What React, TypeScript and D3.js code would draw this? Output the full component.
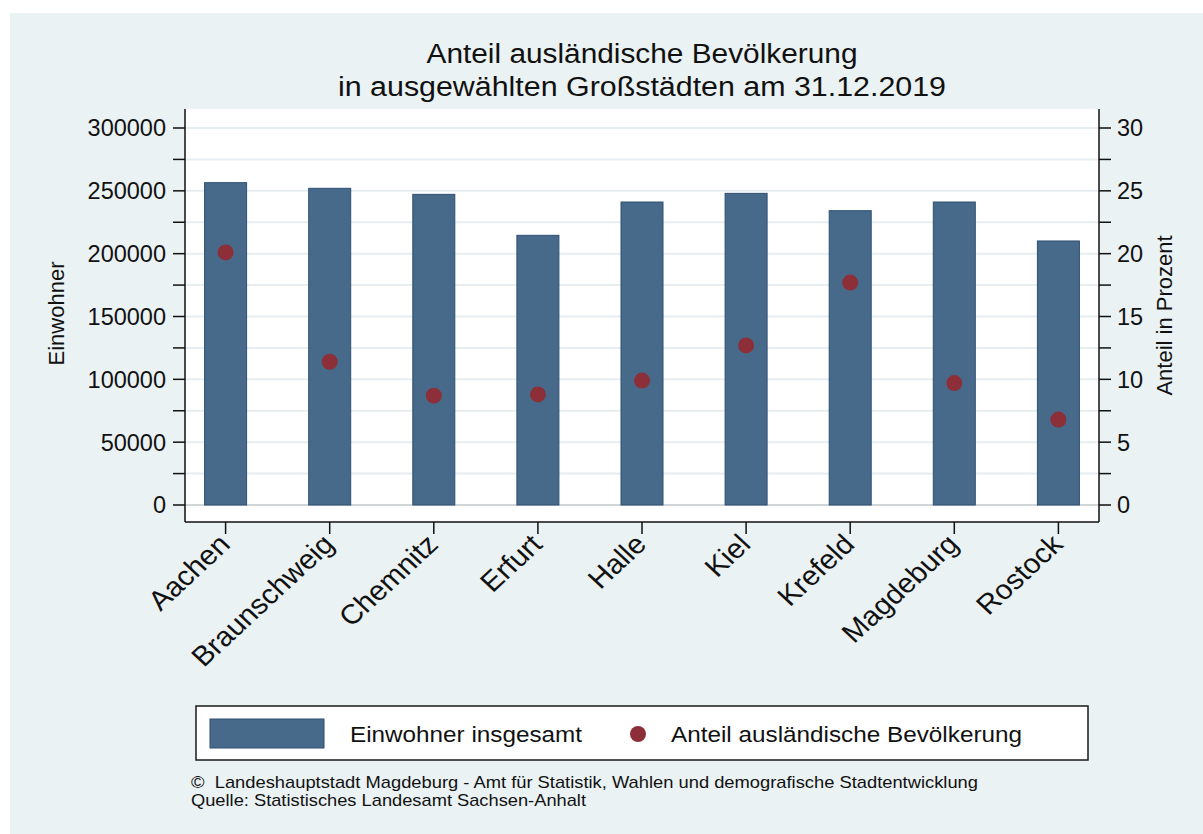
import React from 'react';
import * as d3 from 'd3';

const cities = ['Aachen', 'Braunschweig', 'Chemnitz', 'Erfurt', 'Halle', 'Kiel', 'Krefeld', 'Magdeburg', 'Rostock'];
const einwohner = [256500, 252000, 247200, 214600, 241100, 248000, 234200, 241100, 210100];
const anteil = [20.1, 11.4, 8.7, 8.8, 9.9, 12.7, 17.7, 9.7, 6.8];
const leftMajor = [0, 50000, 100000, 150000, 200000, 250000, 300000];
const leftMinor = [25000, 75000, 125000, 175000, 225000, 275000];
const rightMajor = [0, 5, 10, 15, 20, 25, 30];
const rightMinor = [2.5, 7.5, 12.5, 17.5, 22.5, 27.5];
const titleLines = ['Anteil ausländische Bevölkerung', 'in ausgewählten Großstädten am 31.12.2019'];
const legendLabels = ['Einwohner insgesamt', 'Anteil ausländische Bevölkerung'];
const footer = ['©  Landeshauptstadt Magdeburg - Amt für Statistik, Wahlen und demografische Stadtentwicklung', 'Quelle: Statistisches Landesamt Sachsen-Anhalt'];

const W = 1203, H = 834;
const plot = { left: 185, right: 1099, top: 109, bottom: 522 };
const BG = '#eaf2f3';
const BAR = '#486a8a';
const BAR_STROKE = '#2d4f72';
const DOT = '#8c2f39';
const GRID = '#e6eef1';
const FONT = 'Liberation Sans, Arial, Helvetica, sans-serif';

export default function App() {
  const x = d3.scalePoint<string>().domain(cities).range([plot.left, plot.right]).padding(0.39);
  const yL = d3.scaleLinear().domain([0, 300000]).range([505, 128]);
  const yR = d3.scaleLinear().domain([0, 30]).range([505, 128]);
  const barW = 42;
  const gridVals = [...leftMajor, ...leftMinor];

  return (
    <svg width={W} height={H} style={{ position: 'absolute', left: 0, top: 0 }} fontFamily={FONT}>
      <rect x={0} y={0} width={W} height={H} fill="#ffffff" />
      <rect x={10} y={13} width={W - 10} height={H - 13} fill={BG} />
      <rect x={plot.left} y={plot.top} width={plot.right - plot.left} height={plot.bottom - plot.top} fill="#ffffff" />

      {/* title */}
      <text x={642} y={63} textAnchor="middle" fontSize={27} textLength={431} lengthAdjust="spacingAndGlyphs" fill="#111">{titleLines[0]}</text>
      <text x={642} y={96} textAnchor="middle" fontSize={27} textLength={608} lengthAdjust="spacingAndGlyphs" fill="#111">{titleLines[1]}</text>

      {/* gridlines */}
      {gridVals.map((v) => (
        <line key={'g' + v} x1={plot.left} x2={plot.right} y1={yL(v)} y2={yL(v)} stroke={v === 0 ? '#c4c8cc' : GRID} strokeWidth={v === 0 ? 1.5 : 2} />
      ))}

      {/* bars */}
      {cities.map((c, i) => (
        <rect key={'b' + c} x={(x(c) as number) - barW / 2} y={yL(einwohner[i])} width={barW} height={yL(0) - yL(einwohner[i])} fill={BAR} stroke={BAR_STROKE} strokeWidth={1} />
      ))}

      {/* dots */}
      {cities.map((c, i) => (
        <circle key={'d' + c} cx={x(c) as number} cy={yR(anteil[i])} r={8} fill={DOT} />
      ))}

      {/* left axis */}
      <line x1={plot.left} x2={plot.left} y1={plot.top} y2={plot.bottom} stroke="#111" strokeWidth={1.5} />
      {[...leftMajor, ...leftMinor].map((v) => (
        <line key={'lt' + v} x1={plot.left - 12} x2={plot.left} y1={yL(v)} y2={yL(v)} stroke="#111" strokeWidth={1.5} />
      ))}
      {leftMajor.map((v) => (
        <text key={'ll' + v} x={166} y={yL(v)} dy="0.36em" textAnchor="end" fontSize={23.5} fill="#111">{String(v)}</text>
      ))}
      <text transform={`translate(64,${(plot.top + plot.bottom) / 2 - 2}) rotate(-90)`} textAnchor="middle" fontSize={22} fill="#111">Einwohner</text>

      {/* right axis */}
      <line x1={plot.right} x2={plot.right} y1={plot.top} y2={plot.bottom} stroke="#111" strokeWidth={1.5} />
      {[...rightMajor, ...rightMinor].map((v) => (
        <line key={'rt' + v} x1={plot.right} x2={plot.right + 12} y1={yR(v)} y2={yR(v)} stroke="#111" strokeWidth={1.5} />
      ))}
      {rightMajor.map((v) => (
        <text key={'rl' + v} x={1117} y={yR(v)} dy="0.36em" textAnchor="start" fontSize={23.5} fill="#111">{String(v)}</text>
      ))}
      <text transform={`translate(1172,${(plot.top + plot.bottom) / 2}) rotate(-90)`} textAnchor="middle" fontSize={22} fill="#111">Anteil in Prozent</text>

      {/* x axis */}
      <line x1={plot.left} x2={plot.right} y1={plot.bottom} y2={plot.bottom} stroke="#111" strokeWidth={1.5} />
      {cities.map((c) => (
        <line key={'xt' + c} x1={x(c) as number} x2={x(c) as number} y1={plot.bottom} y2={plot.bottom + 12} stroke="#111" strokeWidth={1.5} />
      ))}
      {cities.map((c) => (
        <text key={'xl' + c} transform={`translate(${(x(c) as number) + 6},${plot.bottom + 24}) scale(1.08,1) rotate(-45)`} textAnchor="end" fontSize={27.5} fill="#111">{c}</text>
      ))}

      {/* legend */}
      <rect x={196} y={706} width={892} height={54} fill="#ffffff" stroke="#1a1a1a" strokeWidth={1.5} />
      <rect x={210} y={719} width={114} height={29} fill={BAR} stroke={BAR_STROKE} strokeWidth={1} />
      <text x={350} y={742} fontSize={22} textLength={232} lengthAdjust="spacingAndGlyphs" fill="#111">{legendLabels[0]}</text>
      <circle cx={638} cy={734} r={8} fill={DOT} />
      <text x={671} y={742} fontSize={22} textLength={351} lengthAdjust="spacingAndGlyphs" fill="#111">{legendLabels[1]}</text>

      {/* footer */}
      <text x={191} y={788} fontSize={17} textLength={787} lengthAdjust="spacingAndGlyphs" fill="#111" style={{ whiteSpace: 'pre' }}>{footer[0]}</text>
      <text x={191} y={806} fontSize={17} textLength={395} lengthAdjust="spacingAndGlyphs" fill="#111">{footer[1]}</text>
    </svg>
  );
}
